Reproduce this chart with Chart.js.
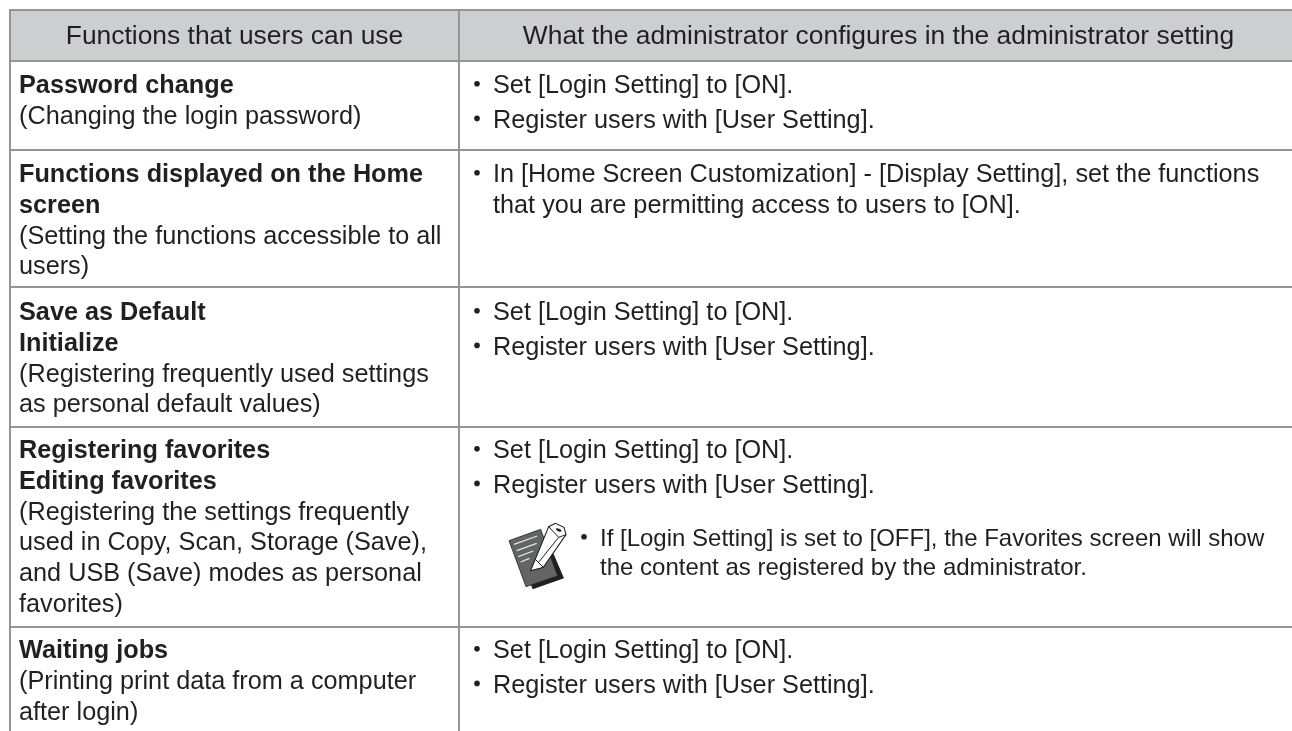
<!DOCTYPE html>
<html><head><meta charset="utf-8">
<style>html,body{margin:0;padding:0;background:#fff}canvas{display:block}</style>
<script src="https://cdn.jsdelivr.net/npm/chart.js@4/dist/chart.umd.min.js"></script>
</head><body><canvas id="c" width="1292" height="731"></canvas>
<script>
const headers = ["Functions that users can use","What the administrator configures in the administrator setting"];
const functionTitles = [
  ["Password change"],
  ["Functions displayed on the Home","screen"],
  ["Save as Default","Initialize"],
  ["Registering favorites","Editing favorites"],
  ["Waiting jobs"]
];
const functionNotes = [
  ["(Changing the login password)"],
  ["(Setting the functions accessible to all","users)"],
  ["(Registering frequently used settings","as personal default values)"],
  ["(Registering the settings frequently","used in Copy, Scan, Storage (Save),","and USB (Save) modes as personal","favorites)"],
  ["(Printing print data from a computer","after login)"]
];
const adminSteps = [
  ["Set [Login Setting] to [ON].","Register users with [User Setting]."],
  ["In [Home Screen Customization] - [Display Setting], set the functions\nthat you are permitting access to users to [ON]."],
  ["Set [Login Setting] to [ON].","Register users with [User Setting]."],
  ["Set [Login Setting] to [ON].","Register users with [User Setting]."],
  ["Set [Login Setting] to [ON].","Register users with [User Setting]."]
];
const noteText = ["If [Login Setting] is set to [OFF], the Favorites screen will show","the content as registered by the administrator."];

// layout (pixels of the 1292x731 page, read through the chart's own scales)
const ruleRows = [10,61,150,287,427,627];
const ruleCols = [10,459];
const firstBaselines = [93,182,320,458,658];
const LH = 30.8, STEP = 34.6, NOTE_LH = 28.5;
const FONT = '"Liberation Sans", Arial, sans-serif', SIZE = 25.25, HEAD = 26.4, NOTE = 24;
const INK = '#231f20', RULE = '#939598', BAND = '#cdced0';

const ruleSets = [
  ...ruleRows.map(y=>({x0:10,x1:1292,y0:y,y1:y})),
  ...ruleCols.map(x=>({x0:x,x1:x,y0:10,y1:731}))
].map(r=>({type:'line',data:[{x:r.x0,y:r.y0},{x:r.x1,y:r.y1}],borderColor:RULE,borderWidth:2,pointRadius:0,borderCapStyle:'square',order:1}));

const tablePlugin = {id:'table',
  beforeDatasetsDraw(ch){
    const c=ch.ctx,X=ch.scales.x,Y=ch.scales.y;
    c.save();c.fillStyle=BAND;
    c.fillRect(X.getPixelForValue(10),Y.getPixelForValue(10),X.getPixelForValue(1292)-X.getPixelForValue(10),Y.getPixelForValue(61)-Y.getPixelForValue(10));
    c.restore();
  },
  afterDatasetsDraw(ch){
    const c=ch.ctx,X=ch.scales.x,Y=ch.scales.y;
    const px=v=>X.getPixelForValue(v),py=v=>Y.getPixelForValue(v);
    c.save();c.fillStyle=INK;c.textBaseline='alphabetic';
    const reg='400 '+SIZE+'px '+FONT,bold='700 '+SIZE+'px '+FONT;
    c.font='400 '+HEAD+'px '+FONT;c.textAlign='center';
    c.fillText(headers[0],px(234.5),py(43.5));
    c.fillText(headers[1],px(878.5),py(43.5));
    c.textAlign='left';
    const bullet=(x,y)=>{c.beginPath();c.arc(px(x),py(y-9.2),2.8,0,Math.PI*2);c.fill();};
    firstBaselines.forEach((b,i)=>{
      let y=b;
      c.font=bold;
      functionTitles[i].forEach(t=>{c.fillText(t,px(19),py(y));y+=LH;});
      c.font=reg;
      functionNotes[i].forEach(t=>{c.fillText(t,px(19),py(y));y+=LH;});
      y=b;
      adminSteps[i].forEach(s=>{
        bullet(477,y);
        s.split('\n').forEach(l=>{c.fillText(l,px(493),py(y));y+=LH;});
        y+=STEP-LH;
      });
    });
    bullet(584,546);
    c.font='400 '+NOTE+'px '+FONT;
    noteText.forEach((t,i)=>c.fillText(t,px(600),py(546+i*NOTE_LH)));
    drawIcon(c,px(490),py(500));
    c.restore();
  }
};
function drawIcon(c,ox,oy){
  const poly=(pts,fill,stroke,w)=>{c.beginPath();pts.forEach((p,i)=>{const x=ox+p[0]/3,y=oy+p[1]/3;i?c.lineTo(x,y):c.moveTo(x,y);});c.closePath();if(fill){c.fillStyle=fill;c.fill();}if(stroke){c.strokeStyle=stroke;c.lineWidth=w;c.stroke();}};
  poly([[190,160],[222,235],[128,268],[116,236]],'#231f20');
  poly([[57,122],[152,88],[203,228],[108,260]],'#636466','#231f20',0.8);
  c.strokeStyle='#e6e7e8';c.lineWidth=1.2;
  [[72,133,142,108],[80,152,140,130],[85,170,130,153],[92,186,118,175]].forEach(l=>{c.beginPath();c.moveTo(ox+l[0]/3,oy+l[1]/3);c.lineTo(ox+l[2]/3,oy+l[3]/3);c.stroke();});
  poly([[122,212],[176,80],[196,70],[222,82],[228,104],[160,202]],'#fff','#231f20',1.1);
  poly([[122,212],[136,178],[160,202]],'#fff','#231f20',1);
  c.beginPath();c.moveTo(ox+176/3,oy+80/3);c.lineTo(ox+206/3,oy+112/3);c.lineTo(ox+228/3,oy+104/3);c.moveTo(ox+206/3,oy+112/3);c.lineTo(ox+145/3,oy+188/3);c.strokeStyle='#231f20';c.lineWidth=1;c.stroke();
  c.beginPath();c.ellipse(ox+206/3,oy+90/3,3,1.4,0.4,0,Math.PI*2);c.fillStyle='#231f20';c.fill();
}
new Chart(document.getElementById('c'),{
  type:'scatter',
  data:{datasets:ruleSets},
  options:{responsive:false,animation:false,events:[],
    layout:{padding:0},
    plugins:{legend:{display:false},tooltip:{enabled:false},title:{display:false}},
    scales:{
      x:{type:'linear',min:0,max:1292,display:false},
      y:{type:'linear',min:0,max:731,reverse:true,display:false}
    }},
  plugins:[tablePlugin]
});
</script></body></html>
